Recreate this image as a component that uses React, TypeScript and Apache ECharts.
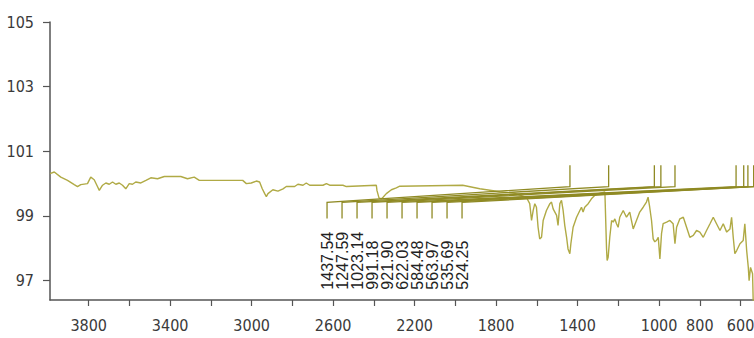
import React, { useEffect, useRef } from "react";
import * as echarts from "echarts";

// IR spectrum: wavenumber (cm-1) and transmittance (%)
const wavenumbers = [
  3990, 3969, 3937, 3904, 3871, 3855, 3839, 3806, 3790, 3773, 3757, 3748, 3732, 3716, 3699, 3683,
  3667, 3650, 3634, 3618, 3601, 3585, 3569, 3544, 3519, 3495, 3462, 3429, 3348, 3315, 3282, 3257,
  3118, 3044, 3026, 3002, 2977, 2961, 2948, 2936, 2928, 2920, 2896, 2871, 2846, 2830, 2789, 2773,
  2748, 2732, 2715, 2650, 2633, 2617, 2552, 2535, 2388, 2385, 2375, 2363, 2355, 2339, 2314, 2290,
  2273, 1964, 1880, 1782, 1708, 1651, 1635, 1626, 1618, 1610, 1602, 1594, 1586, 1577, 1569, 1553,
  1536, 1528, 1520, 1503, 1496, 1487, 1479, 1471, 1463, 1454, 1447, 1438, 1433, 1422, 1405, 1389,
  1381, 1373, 1365, 1348, 1332, 1315, 1291, 1266, 1258, 1255, 1250, 1242, 1233, 1225, 1217, 1209,
  1201, 1193, 1176, 1160, 1144, 1127, 1111, 1095, 1078, 1062, 1054, 1046, 1037, 1029, 1021, 1013,
  1004, 996, 988, 980, 963, 947, 931, 922, 914, 898, 881, 865, 849, 832, 816, 800,
  783, 767, 750, 734, 718, 701, 685, 668, 652, 644, 636, 628, 619, 603, 587, 579,
  570, 562, 558, 551, 541, 538, 534,
];
const transmittance = [
  100.31, 100.36, 100.2, 100.1, 99.97, 99.91, 99.97, 100.0, 100.2, 100.12, 99.91, 99.79, 99.95, 100.02, 99.98, 100.05,
  99.98, 100.02, 99.95, 99.84, 100.0, 99.98, 100.05, 100.02, 100.1, 100.18, 100.15, 100.22, 100.22, 100.15, 100.2, 100.1,
  100.1, 100.1, 100.0, 100.02, 100.08, 100.05, 99.84, 99.69, 99.6, 99.69, 99.81, 99.77, 99.84, 99.91, 99.91, 99.98,
  99.95, 100.02, 99.95, 99.95, 100.0, 99.95, 99.95, 99.91, 99.95, 99.79, 99.56, 99.53, 99.58, 99.69, 99.81, 99.87,
  99.92, 99.95, 99.84, 99.75, 99.7, 99.57, 99.38, 98.86, 99.17, 99.38, 99.27, 98.65, 98.29, 98.34, 98.86, 99.17,
  99.38, 99.43, 99.22, 99.02, 98.71, 99.38, 99.48, 99.17, 98.71, 98.34, 97.98, 97.83, 98.14, 98.65, 98.96, 99.17,
  99.27, 99.12, 99.27, 99.38, 99.53, 99.64, 99.7, 99.74, 98.0, 97.62, 97.72, 98.34, 98.86, 98.81, 98.91, 98.76,
  98.65, 98.96, 99.17, 98.96, 99.12, 98.6, 98.86, 99.12, 99.27, 99.43, 99.58, 99.27, 98.86, 98.29, 98.2, 98.24,
  98.34, 97.67, 98.45, 98.76, 98.81, 98.86, 98.76, 98.14, 98.65, 98.91, 98.96, 98.65, 98.34, 98.4, 98.55, 98.5,
  98.34, 98.55, 98.76, 98.96, 98.76, 98.55, 98.76, 98.5, 98.6, 98.96, 98.34, 97.83, 97.93, 98.14, 98.24, 98.76,
  97.93, 97.41, 97.0, 97.41, 97.21, 96.38, 96.0,
];

// Peak annotations
const peakPositions = [1437.54, 1247.59, 1023.14, 991.18, 921.9, 622.03, 584.48, 563.97, 535.69, 524.25];
const peakLabels = ["1437.54", "1247.59", "1023.14", "991.18", "921.90", "622.03", "584.48", "563.97", "535.69", "524.25"];

// Axes
const xTickValues = [3800, 3600, 3400, 3200, 3000, 2800, 2600, 2400, 2200, 2000, 1800, 1600, 1400, 1200, 1000, 800, 600];
const xLabelValues = [3800, 3400, 3000, 2600, 2200, 1800, 1400, 1000, 800, 600];
const yLabelValues = [97, 99, 101, 103, 105];

const SPECTRUM_COLOR = "#b0aa45";
const MARKER_COLOR = "#8f8a24";
const AXIS_COLOR = "#555555";
const LABEL_FONT = "'Liberation Sans Narrow', 'DejaVu Sans Condensed', 'Arial Narrow', 'Liberation Sans', sans-serif";

export default function App() {
  const ref = useRef<HTMLDivElement>(null);

  useEffect(() => {
    if (!ref.current) return;
    const chart = echarts.init(ref.current, null, { renderer: "svg" });

    const spectrum = wavenumbers.map((w, i) => [w, transmittance[i]]);
    const peaks = peakPositions.map((p, i) => [p, i]);

    chart.setOption({
      animation: false,
      backgroundColor: "#ffffff",
      grid: { left: 50, right: 0, top: 22, bottom: 38, containLabel: false, outerBoundsMode: "none" },
      xAxis: {
        type: "value",
        inverse: true,
        min: 534,
        max: 3990,
        axisLine: { show: true, lineStyle: { color: AXIS_COLOR, width: 1.5 } },
        axisTick: { show: true, length: 6, lineStyle: { color: AXIS_COLOR, width: 1.2 }, customValues: xTickValues },
        axisLabel: {
          customValues: xLabelValues,
          formatter: (v: number) => String(v),
          color: "#3a3a3a",
          fontFamily: LABEL_FONT,
          fontSize: 16,
          margin: 17,
        },
        splitLine: { show: false },
      },
      yAxis: {
        type: "value",
        min: 96.4,
        max: 105,
        axisLine: { show: true, lineStyle: { color: AXIS_COLOR, width: 1.5 } },
        axisTick: { show: true, length: 7, lineStyle: { color: AXIS_COLOR, width: 1.2 }, customValues: yLabelValues },
        axisLabel: {
          customValues: yLabelValues,
          formatter: (v: number) => String(v),
          color: "#3a3a3a",
          fontFamily: LABEL_FONT,
          fontSize: 16,
          margin: 16,
        },
        splitLine: { show: false },
      },
      series: [
        {
          type: "line",
          data: spectrum,
          showSymbol: false,
          symbol: "none",
          lineStyle: { color: SPECTRUM_COLOR, width: 1.4 },
          clip: true,
          z: 2,
        },
        {
          type: "custom",
          data: peaks,
          encode: { x: 0, y: 1 },
          clip: true,
          z: 3,
          renderItem: (params: any, api: any) => {
            const idx = params.dataIndex;
            const peak = api.value(0);
            const top = api.coord([peak, 100.57]);
            const elbow = api.coord([peak, 99.91]);
            const lx = api.coord([2630, 99.42])[0] + idx * 15;
            const ly = api.coord([2630, 99.42])[1];
            const lyb = api.coord([2630, 98.92])[1];
            const ty = api.coord([2630, 96.72])[1];
            return {
              type: "group",
              children: [
                {
                  type: "polyline",
                  shape: { points: [top, elbow, [lx, ly], [lx, lyb]] },
                  style: { stroke: MARKER_COLOR, lineWidth: 1.3, fill: "none" },
                },
                {
                  type: "text",
                  x: lx,
                  y: ty,
                  rotation: Math.PI / 2,
                  style: {
                    text: peakLabels[idx],
                    fill: "#222222",
                    font: "16px 'Liberation Sans', Arial, sans-serif",
                    align: "left",
                    verticalAlign: "middle",
                  },
                },
              ],
            };
          },
        },
      ],
    });

    return () => chart.dispose();
  }, []);

  return <div ref={ref} style={{ position: "absolute", left: 0, top: 0, width: 754, height: 338 }} />;
}
